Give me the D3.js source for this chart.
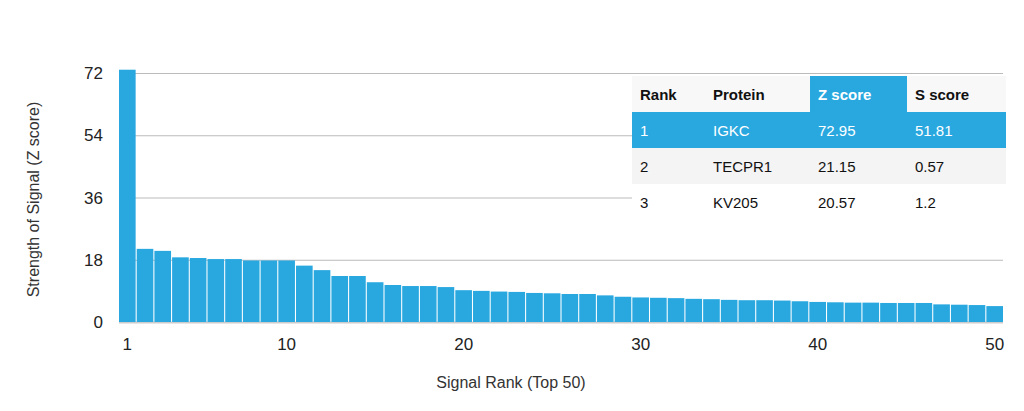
<!DOCTYPE html>
<html>
<head>
<meta charset="utf-8">
<script src="https://cdn.jsdelivr.net/npm/d3@7"></script>
<style>
	body { margin: 0; background: #fff; }
	svg { font-family: 'Liberation Sans', Arial, sans-serif; }
</style>
</head>
<body>
<svg id="chart" width="1024" height="411"></svg>
<script>
// Z scores by signal rank (top 50)
const zScores = [
	72.95, 21.15, 20.57, 18.7, 18.5, 18.2, 18.2, 17.8, 17.8, 17.8,
	16.3, 15.0, 13.3, 13.3, 11.5, 10.7, 10.4, 10.4, 10.1, 9.2,
	9.0, 8.8, 8.7, 8.4, 8.3, 8.1, 8.1, 7.7, 7.3, 7.1,
	7.0, 6.9, 6.7, 6.6, 6.4, 6.3, 6.3, 6.2, 6.0, 5.8,
	5.7, 5.6, 5.6, 5.5, 5.5, 5.5, 5.1, 5.0, 4.9, 4.6
];
const yTicks = [0, 18, 36, 54, 72];
const xTicks = [1, 10, 20, 30, 40, 50];

const tableHeader = ['Rank', 'Protein', 'Z score', 'S score'];
const tableRows = [
	['1', 'IGKC', '72.95', '51.81'],
	['2', 'TECPR1', '21.15', '0.57'],
	['3', 'KV205', '20.57', '1.2']
];

const blue = '#29a8e0';
const svg = d3.select('#chart');
const plotLeft = 119, plotRight = 1003, plotTop = 73, plotBottom = 322;

const x = d3.scaleBand()
	.domain(d3.range(1, zScores.length + 1))
	.range([plotLeft, plotRight])
	.paddingInner(0.06);
const y = d3.scaleLinear().domain([0, 72]).range([plotBottom, plotTop]);

// Grid lines
svg.append('g')
	.selectAll('line')
	.data(yTicks)
	.join('line')
	.attr('x1', plotLeft)
	.attr('x2', plotRight)
	.attr('y1', d => y(d) + 0.5)
	.attr('y2', d => y(d) + 0.5)
	.attr('stroke', d => (d === 0 ? '#ccc' : '#bbb'))
	.attr('stroke-width', d => (d === 0 ? 2 : 1));

// Y tick labels
svg.append('g')
	.selectAll('text')
	.data(yTicks)
	.join('text')
	.attr('x', 103)
	.attr('y', d => y(d) + 6)
	.attr('text-anchor', 'end')
	.attr('font-size', 17)
	.attr('fill', '#222')
	.text(d => d);

// Bars
svg.append('g')
	.selectAll('rect')
	.data(zScores)
	.join('rect')
	.attr('x', (d, i) => x(i + 1))
	.attr('y', d => y(d))
	.attr('width', x.bandwidth())
	.attr('height', d => y(0) - y(d))
	.attr('fill', blue);

// X tick labels
svg.append('g')
	.selectAll('text')
	.data(xTicks)
	.join('text')
	.attr('x', d => x(d) + x.bandwidth() / 2)
	.attr('y', 350)
	.attr('text-anchor', 'middle')
	.attr('font-size', 17)
	.attr('fill', '#222')
	.text(d => d);

// Axis titles
svg.append('text')
	.attr('x', (plotLeft + plotRight) / 2 - 50)
	.attr('y', 388)
	.attr('text-anchor', 'middle')
	.attr('font-size', 16)
	.attr('fill', '#333')
	.text('Signal Rank (Top 50)');

svg.append('text')
	.attr('transform', `translate(39,${(plotTop + plotBottom) / 2 + 2}) rotate(-90)`)
	.attr('text-anchor', 'middle')
	.attr('font-size', 16)
	.attr('fill', '#333')
	.text('Strength of Signal (Z score)');

// Table
const colX = [632, 705, 810, 907];
const colW = [73, 105, 97, 99];
const rowH = 36, tableTop = 76;
const table = svg.append('g');

tableHeader.forEach((h, c) => {
	table.append('rect')
		.attr('x', colX[c])
		.attr('y', tableTop)
		.attr('width', colW[c])
		.attr('height', rowH)
		.attr('fill', c === 2 ? blue : '#f8f8f8');
	table.append('text')
		.attr('x', colX[c] + 8)
		.attr('y', tableTop + 24)
		.attr('font-size', 15)
		.attr('font-weight', 'bold')
		.attr('fill', c === 2 ? '#fff' : '#111')
		.text(h);
});

const rowFill = [blue, '#f4f4f4', '#fff'];
tableRows.forEach((row, r) => {
	const ry = tableTop + rowH * (r + 1);
	table.append('rect')
		.attr('x', colX[0])
		.attr('y', ry)
		.attr('width', 374)
		.attr('height', rowH)
		.attr('fill', rowFill[r]);
	row.forEach((v, c) => {
		table.append('text')
			.attr('x', colX[c] + 8)
			.attr('y', ry + 24)
			.attr('font-size', 15)
			.attr('fill', r === 0 ? '#fff' : '#111')
			.text(v);
	});
});
</script>
</body>
</html>
